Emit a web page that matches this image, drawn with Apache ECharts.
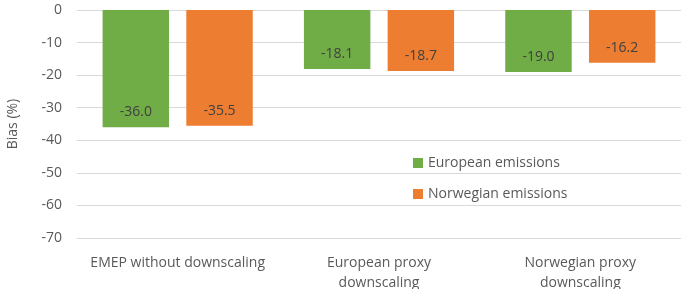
<!DOCTYPE html>
<html>
<head>
<meta charset="utf-8">
<script src="https://cdn.jsdelivr.net/npm/echarts@6/dist/echarts.min.js"></script>
<style>
    html, body { margin: 0; padding: 0; background: #fff; }
    #chart { width: 683px; height: 289px; }
</style>
</head>
<body>
<div id="chart"></div>
<script>
// Chart data
var categories = ['EMEP without downscaling', 'European proxy\ndownscaling', 'Norwegian proxy\ndownscaling'];
var europeanEmissions = [-36.0, -18.1, -19.0];
var norwegianEmissions = [-35.5, -18.7, -16.2];
var seriesNames = ['European emissions', 'Norwegian emissions'];

var FONT = 'Open Sans';

function barLabel() {
    return {
        show: true,
        position: 'insideBottom',
        distance: 8,
        fontFamily: FONT,
        fontSize: 14,
        color: '#404040',
        formatter: function(p) { return p.value.toFixed(1); }
    };
}

var chart = echarts.init(document.getElementById('chart'));

var option = {
    animation: false,
    textStyle: { fontFamily: FONT },
    grid: { left: 77, right: 2, top: 10, bottom: 51, outerBoundsMode: 'none', containLabel: false },
    legend: {
        orient: 'vertical',
        left: 408,
        top: 151,
        itemWidth: 10,
        itemHeight: 10,
        itemGap: 17,
        icon: 'rect',
        textStyle: { fontFamily: FONT, fontSize: 14, color: '#595959' },
        data: seriesNames
    },
    xAxis: {
        type: 'category',
        data: categories,
        position: 'bottom',
        axisLine: { show: false },
        axisTick: { show: false },
        axisLabel: {
            interval: 0,
            margin: 15,
            fontFamily: FONT,
            fontSize: 14,
            lineHeight: 20,
            color: '#595959'
        }
    },
    yAxis: {
        type: 'value',
        min: -70,
        max: 0,
        interval: 10,
        name: 'Bias (%)',
        nameLocation: 'middle',
        nameGap: 57,
        nameTextStyle: { fontFamily: FONT, fontSize: 14, color: '#595959' },
        axisLine: { show: false },
        axisTick: { show: false },
        axisLabel: { fontFamily: FONT, fontSize: 14, color: '#595959', margin: 15 },
        splitLine: { lineStyle: { color: '#d9d9d9', width: 1 } }
    },
    series: [
        {
            name: seriesNames[0],
            type: 'bar',
            data: europeanEmissions,
            barWidth: '33%',
            barGap: '26%',
            itemStyle: { color: '#70AD47' },
            label: barLabel()
        },
        {
            name: seriesNames[1],
            type: 'bar',
            data: norwegianEmissions,
            barWidth: '33%',
            itemStyle: { color: '#ED7D31' },
            label: barLabel()
        }
    ]
};

chart.setOption(option);
</script>
</body>
</html>
